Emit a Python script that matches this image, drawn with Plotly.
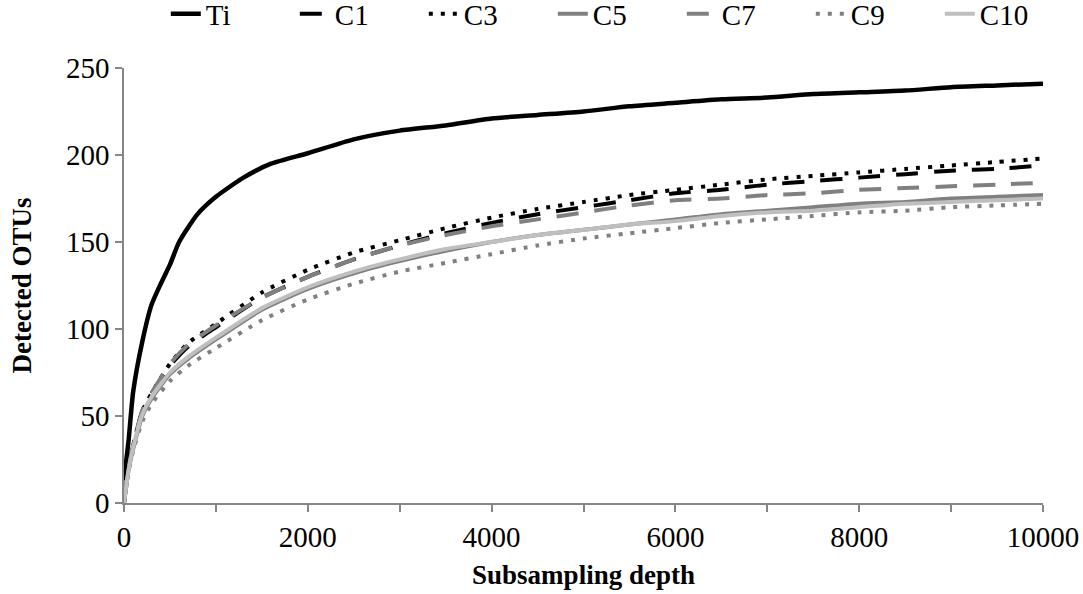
import plotly.graph_objects as go

x_ti = [0, 50, 100, 200, 300, 400, 500, 600, 800, 1000, 1300, 1600, 2000, 2500, 3000, 3500,
        4000, 4500, 5000, 5500, 6000, 6500, 7000, 7500, 8000, 8500, 9000, 9500, 10000]
ti = [13, 36, 64, 93, 114, 126, 137, 150, 166, 176, 187, 195, 201, 209, 214, 217,
      221, 223, 225, 228, 230, 232, 233, 235, 236, 237, 239, 240, 241]

x_c = [0, 50, 100, 200, 300, 500, 700, 1000, 1500, 2000, 2500, 3000, 3500, 4000, 4500,
       5000, 5500, 6000, 6500, 7000, 7500, 8000, 8500, 9000, 9500, 10000]
c1 = [0, 20, 33, 53, 63, 79, 90, 101, 118, 130, 140, 148, 155, 161, 166, 170, 174, 178, 180, 183, 185, 187, 189, 191, 192, 194]
c3 = [0, 20, 33, 53, 63, 80, 92, 103, 121, 134, 144, 151, 158, 164, 169, 173, 177, 180, 183, 186, 188, 190, 192, 194, 196, 198]
c5 = [0, 19, 31, 50, 60, 74, 83, 94, 111, 123, 132, 139, 145, 150, 154, 157, 160, 163, 166, 168, 170, 172, 173, 175, 176, 177]
c7 = [0, 20, 33, 53, 63, 80, 91, 102, 118, 130, 140, 148, 154, 159, 163, 167, 171, 174, 175, 177, 178, 180, 181, 182, 183, 184]
c9 = [0, 18, 30, 47, 57, 70, 79, 89, 105, 117, 126, 133, 138, 143, 148, 152, 155, 158, 161, 163, 165, 167, 168, 170, 171, 172]
c10 = [0, 19, 32, 51, 61, 75, 84, 95, 112, 124, 133, 140, 146, 150, 154, 157, 160, 162, 165, 167, 168, 170, 172, 173, 174, 175]

series = [
    ("Ti", x_ti, ti, "#000000", "solid", 4.5),
    ("C1", x_c, c1, "#000000", "22px,16px", 4),
    ("C3", x_c, c3, "#000000", "4px,8px", 4),
    ("C5", x_c, c5, "#808080", "solid", 4),
    ("C7", x_c, c7, "#808080", "22px,16px", 4),
    ("C9", x_c, c9, "#808080", "4px,8px", 4),
    ("C10", x_c, c10, "#BFBFBF", "solid", 4),
]

FONT = "Liberation Serif, Times New Roman, serif"
fig = go.Figure()
for name, xs, ys, color, dash, w in series:
    fig.add_trace(go.Scatter(x=xs, y=ys, name=name, mode="lines",
                             line=dict(color=color, dash=dash, width=w, shape="spline", smoothing=0.6)))

axis_color = "#868686"
fig.update_layout(
    width=1083, height=594,
    margin=dict(l=124, r=40, t=68, b=91, autoexpand=False),
    paper_bgcolor="white", plot_bgcolor="white",
    font=dict(family=FONT, size=29, color="black"),
    showlegend=True,
    legend=dict(orientation="h", xref="container", yref="paper",
                x=0.57, xanchor="center", y=1.183, yanchor="top",
                font=dict(family=FONT, size=29, color="black"), entrywidth=84, entrywidthmode="pixels",
                tracegroupgap=0, itemwidth=30, bgcolor="rgba(0,0,0,0)"),
    xaxis=dict(range=[0, 10000], dtick=2000, tick0=0, showgrid=False, zeroline=False,
               showline=True, linecolor=axis_color, linewidth=1.5, tickformat="d",
               ticks="outside", ticklen=7, tickcolor=axis_color, tickwidth=1.5,
               minor=dict(dtick=1000, ticks="outside", ticklen=7, tickcolor=axis_color, tickwidth=1.5),
               title=dict(text="<b>Subsampling depth</b>", font=dict(family=FONT, size=27, color="black"), standoff=14),
               tickfont=dict(family=FONT, size=29, color="black")),
    yaxis=dict(range=[0, 250], dtick=50, showgrid=False, zeroline=False,
               showline=True, linecolor=axis_color, linewidth=1.5, tickformat="d",
               ticks="outside", ticklen=7, tickcolor=axis_color, tickwidth=1.5,
               title=dict(text="<b>Detected OTUs</b>", font=dict(family=FONT, size=27, color="black"), standoff=27),
               tickfont=dict(family=FONT, size=29, color="black")),
)

fig.write_html("out.html")
